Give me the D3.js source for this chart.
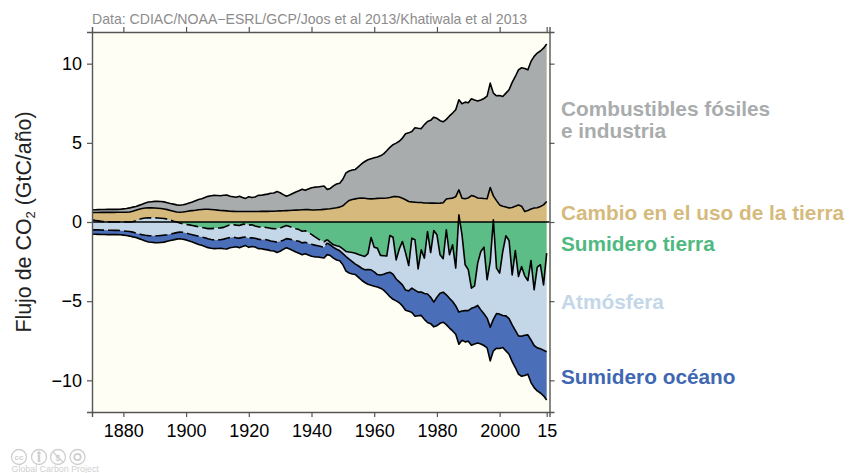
<!DOCTYPE html>
<html>
<head>
<meta charset="utf-8">
<script src="https://cdn.jsdelivr.net/npm/d3@7"></script>
<style>
  html, body { margin: 0; padding: 0; background: #fff; overflow: hidden; }
  svg { display: block; font-family: "Liberation Sans", Arial, sans-serif; }
  .tick text { fill: #000; }
</style>
</head>
<body>
<svg id="chart" width="849" height="473"></svg>
<script>
// GtC/yr, one value per year from 1870 to 2015
const years = d3.range(1870, 2016);

// top of the stack: fossil + land use change
const totalTop = [
  .77,.77,.78,.79,.79,.80,.80,.80,.80,.81,
  .83,.85,.89,.94,.98,1.05,1.12,1.2,1.26,1.28,
  1.3,1.31,1.29,1.27,1.22,1.17,1.13,1.08,1.06,1.09,
  1.13,1.2,1.26,1.34,1.42,1.47,1.55,1.62,1.66,1.68,
  1.67,1.66,1.69,1.71,1.63,1.6,1.56,1.63,1.55,1.49,
  1.6,1.55,1.58,1.68,1.69,1.73,1.76,1.82,1.83,1.92,
  1.85,1.73,1.63,1.7,1.8,1.9,1.98,2.07,2.0,2.08,
  2.16,2.2,2.21,2.24,2.27,2.06,2.12,2.28,2.4,2.45,
  2.7,3.1,3.22,3.28,3.32,3.5,3.68,3.82,3.93,4.0,
  4.06,4.1,4.18,4.3,4.5,4.72,4.88,4.98,5.1,5.3,
  5.57,5.63,5.72,5.95,5.92,5.9,6.15,6.35,6.42,6.62,
  6.55,6.4,6.33,6.48,6.7,6.88,7.09,7.72,7.47,7.57,
  7.53,7.78,7.7,7.64,7.7,7.8,7.95,8.77,8.14,7.97,
  7.99,7.93,8.14,8.35,8.82,9.19,9.61,9.74,9.7,9.61,
  10.14,10.46,10.67,10.8,10.98,11.24
];

// land use change, on top of the zero line
const lucTop = [
  .6,.6,.6,.61,.61,.61,.61,.61,.62,.62,
  .62,.62,.63,.68,.74,.8,.85,.88,.89,.89,
  .88,.87,.85,.82,.78,.73,.68,.63,.62,.63,
  .66,.7,.72,.74,.77,.79,.81,.81,.79,.77,
  .75,.73,.72,.7,.68,.67,.66,.66,.66,.66,
  .66,.66,.66,.66,.67,.67,.67,.68,.68,.69,
  .7,.71,.72,.73,.74,.75,.76,.77,.78,.79,
  .76,.76,.77,.78,.8,.82,.84,.87,.9,.94,
  1.02,1.2,1.36,1.42,1.46,1.5,1.51,1.5,1.47,1.46,
  1.47,1.49,1.5,1.5,1.52,1.55,1.6,1.61,1.58,1.5,
  1.4,1.3,1.27,1.25,1.23,1.23,1.2,1.2,1.19,1.19,
  1.18,1.19,1.22,1.45,1.48,1.51,1.6,2.03,1.5,1.47,
  1.52,1.67,1.62,1.52,1.5,1.48,1.47,2.18,1.65,1.35,
  1.08,1.0,.95,.88,.92,1.0,1.07,1.0,.66,.72,
  .82,.88,.9,.98,1.08,1.3
];

// lower edge of the land sink
const landEdge = [
  .12,.1,.07,.04,.02,.01,0,0,0,0,
  0,0,0,.02,.08,.16,.22,.25,.26,.26,
  .26,.25,.24,.22,.18,.12,.05,0,-.06,-.12,
  -.15,-.18,-.22,-.26,-.3,-.34,-.38,-.42,-.42,-.4,
  -.38,-.37,-.34,-.25,-.18,-.16,-.2,-.22,-.15,-.13,
  -.2,-.17,-.25,-.3,-.35,-.33,-.36,-.4,-.42,-.43,
  -.38,-.3,-.22,-.28,-.35,-.42,-.48,-.58,-.55,-.68,
  -.78,-.92,-1.05,-1.18,-1.25,-1.12,-1.28,-1.44,-1.5,-1.55,
  -1.7,-1.86,-1.9,-1.93,-1.97,-2.05,-2.12,-2.18,-2.0,-.98,
  -1.59,-1.65,-2.11,-2.13,-2.15,-.85,-.96,-2.39,-1.7,-1.23,
  -1.95,-2.75,-1.02,-1.12,-2.96,-1.76,-2.28,-.6,-1.93,-.54,
  -.81,-2.07,-2.32,-.49,-2.07,-1.44,-2.91,.45,-.81,-2.7,
  -3.01,-4.18,-4.03,-2.6,-1.86,-1.59,-3.65,-2.5,.14,-2.91,
  -3.23,-1.86,-.87,-1.17,-3.34,-1.8,-3.44,-2.81,-3.4,-3.7,
  -2.43,-4.28,-2.85,-2.7,-3.97,-1.97
];

// lower edge of the atmosphere band
const atmEdge = [
  -.5,-.5,-.5,-.51,-.51,-.52,-.52,-.53,-.53,-.54,
  -.56,-.58,-.6,-.64,-.7,-.76,-.8,-.84,-.86,-.87,
  -.87,-.87,-.85,-.83,-.8,-.76,-.72,-.67,-.64,-.65,
  -.7,-.76,-.8,-.85,-.9,-.95,-1.0,-1.06,-1.1,-1.13,
  -1.13,-1.12,-1.08,-1.03,-.98,-.96,-1.0,-1.02,-.97,-.95,
  -1.02,-.99,-1.03,-1.08,-1.12,-1.1,-1.14,-1.2,-1.23,-1.27,
  -1.22,-1.15,-1.05,-1.08,-1.13,-1.18,-1.22,-1.32,-1.28,-1.36,
  -1.4,-1.46,-1.5,-1.55,-1.6,-1.32,-1.45,-1.6,-1.72,-1.82,
  -2.0,-2.18,-2.35,-2.5,-2.66,-2.78,-2.92,-3.02,-3.0,-3.02,
  -3.15,-3.32,-3.35,-3.3,-3.22,-3.17,-3.3,-3.6,-3.78,-3.97,
  -4.3,-4.35,-4.18,-4.3,-4.43,-4.42,-4.52,-4.55,-4.75,-5.06,
  -4.75,-4.5,-4.43,-4.6,-4.82,-5.02,-5.3,-5.69,-5.62,-5.6,
  -5.6,-5.45,-5.38,-5.27,-5.55,-5.8,-6.07,-6.64,-6.15,-5.78,
  -5.82,-5.9,-5.93,-6.1,-6.5,-6.85,-7.19,-7.22,-7.15,-7.13,
  -7.45,-7.8,-7.95,-8.0,-8.1,-8.2
];

// the budget closes, so the bottom mirrors the top
const oceanEdge = totalTop.map(v => -v);
const zeroLine = years.map(() => 0);

const xTicks = [1880, 1900, 1920, 1940, 1960, 1980, 2000, 2015];
const yTicks = [-10, -5, 0, 5, 10];
const dashedUntil = 1945;

const bands = [
  { upper: totalTop, lower: lucTop, fill: "#a9acad" },
  { upper: lucTop, lower: zeroLine, fill: "#d6ba7d" },
  { upper: zeroLine, lower: landEdge, fill: "#5cbd86" },
  { upper: landEdge, lower: atmEdge, fill: "#c3d7e9" },
  { upper: atmEdge, lower: oceanEdge, fill: "#4a6eb8" }
];

const labels = [
  { text: "Combustibles fósiles", y: 115.5, fill: "#a9acad" },
  { text: "e industria", y: 138, fill: "#a9acad" },
  { text: "Cambio en el uso de la tierra", y: 219.5, fill: "#d6ba7d" },
  { text: "Sumidero tierra", y: 251, fill: "#4fb97f" },
  { text: "Atmósfera", y: 309, fill: "#c3d7e9" },
  { text: "Sumidero océano", y: 384, fill: "#3f68b3" }
];

const svg = d3.select("#chart");
const plot = { left: 92, right: 549.5, top: 32, bottom: 412 };

const x = d3.scaleLinear().domain([1870, 2015.9]).range([plot.left, plot.right]);
const y = d3.scaleLinear().domain([-12, 12]).range([plot.bottom, plot.top]);

svg.append("rect")
  .attr("x", plot.left).attr("y", plot.top)
  .attr("width", plot.right - plot.left).attr("height", plot.bottom - plot.top)
  .attr("fill", "#fffef5");

bands.forEach((band) => {
  const area = d3.area()
    .x((d) => x(d))
    .y0((d, i) => y(band.lower[i]))
    .y1((d, i) => y(band.upper[i]));
  svg.append("path").attr("d", area(years)).attr("fill", band.fill);
});

// Outlines, the two sink edges are dashed in the early part
const edgeLine = (values, from, to) => d3.line()
  .defined((d) => d >= from && d <= to)
  .x((d) => x(d))
  .y((d, i) => y(values[i]))(years);

const outline = svg.append("g")
  .attr("fill", "none")
  .attr("stroke", "#000")
  .attr("stroke-width", 1.6)
  .attr("stroke-linejoin", "round");

[totalTop, lucTop, oceanEdge].forEach((values) => {
  outline.append("path").attr("d", edgeLine(values, 1870, 2015));
});
[landEdge, atmEdge].forEach((values) => {
  outline.append("path").attr("d", edgeLine(values, dashedUntil, 2015));
  outline.append("path").attr("d", edgeLine(values, 1870, dashedUntil))
    .attr("stroke-dasharray", "12 4");
});

svg.append("line")
  .attr("x1", plot.left).attr("x2", plot.right)
  .attr("y1", y(0)).attr("y2", y(0))
  .attr("stroke", "#000").attr("stroke-width", 1.4);

// Axes on all four sides, only bottom and left carry labels
const yLabel = (d) => (d < 0 ? "\u2212" + Math.abs(d) : d);
const xLabel = (d) => (d === 2015 ? "15" : d);

const axes = [
  { axis: d3.axisBottom(x).tickValues(xTicks).tickFormat(xLabel).tickPadding(7), at: [0, plot.bottom] },
  { axis: d3.axisTop(x).tickValues(xTicks).tickFormat(""), at: [0, plot.top] },
  { axis: d3.axisLeft(y).tickValues(yTicks).tickFormat(yLabel).tickPadding(5), at: [plot.left, 0] },
  { axis: d3.axisRight(y).tickValues(yTicks).tickFormat(""), at: [plot.right, 0] }
];

axes.forEach(({ axis, at }) => {
  const g = svg.append("g")
    .attr("transform", `translate(${at[0]},${at[1]})`)
    .call(axis.tickSize(5));
  g.attr("font-family", null).attr("font-size", 18);
  g.selectAll(".domain").attr("stroke", "#555").attr("stroke-width", 1.4);
  g.selectAll(".tick line").attr("stroke", "#555").attr("stroke-width", 1.2);
});

// Y title
const yTitle = svg.append("text")
  .attr("transform", "translate(31,222) rotate(-90)")
  .attr("text-anchor", "middle")
  .attr("font-size", 21.4)
  .attr("fill", "#222");
yTitle.append("tspan").text("Flujo de CO");
yTitle.append("tspan").text("2").attr("font-size", 13).attr("dy", 4);
yTitle.append("tspan").text(" (GtC/año)").attr("dy", -4);

// Source line
svg.append("text")
  .attr("x", 92).attr("y", 24)
  .attr("font-size", 14.1)
  .attr("fill", "#8c8c8c")
  .text("Data: CDIAC/NOAA\u2212ESRL/GCP/Joos et al 2013/Khatiwala et al 2013");

// Direct labels on the right
svg.append("g")
  .selectAll("text")
  .data(labels)
  .join("text")
  .attr("x", 561)
  .attr("y", (d) => d.y)
  .attr("fill", (d) => d.fill)
  .attr("font-size", 20.8)
  .attr("font-weight", "bold")
  .text((d) => d.text);

// Licence badges, bottom left
const badgeGrey = "#cfcfcf";
const badges = svg.append("g")
  .attr("fill", "none")
  .attr("stroke", badgeGrey)
  .attr("stroke-width", 1.3);
[19, 39, 58, 77.5].forEach((cx) => {
  badges.append("circle").attr("cx", cx).attr("cy", 457).attr("r", 7.5);
});
svg.append("text")
  .attr("x", 19).attr("y", 460)
  .attr("text-anchor", "middle")
  .attr("font-size", 8).attr("font-weight", "bold")
  .attr("fill", badgeGrey)
  .text("cc");
badges.append("circle").attr("cx", 39).attr("cy", 453).attr("r", 1.2).attr("fill", badgeGrey);
badges.append("line").attr("x1", 39).attr("x2", 39).attr("y1", 455).attr("y2", 462).attr("stroke-width", 2.5);
badges.append("line").attr("x1", 53).attr("x2", 63).attr("y1", 452).attr("y2", 462);
svg.append("text")
  .attr("x", 58).attr("y", 460.5)
  .attr("text-anchor", "middle")
  .attr("font-size", 9).attr("font-weight", "bold")
  .attr("fill", badgeGrey)
  .text("$");
badges.append("circle").attr("cx", 77.5).attr("cy", 457).attr("r", 3.2).attr("stroke-width", 1.8);

svg.append("text")
  .attr("x", 11.5).attr("y", 472)
  .attr("font-size", 8.9)
  .attr("fill", "#cfcfcf")
  .text("Global Carbon Project");
</script>
</body>
</html>
